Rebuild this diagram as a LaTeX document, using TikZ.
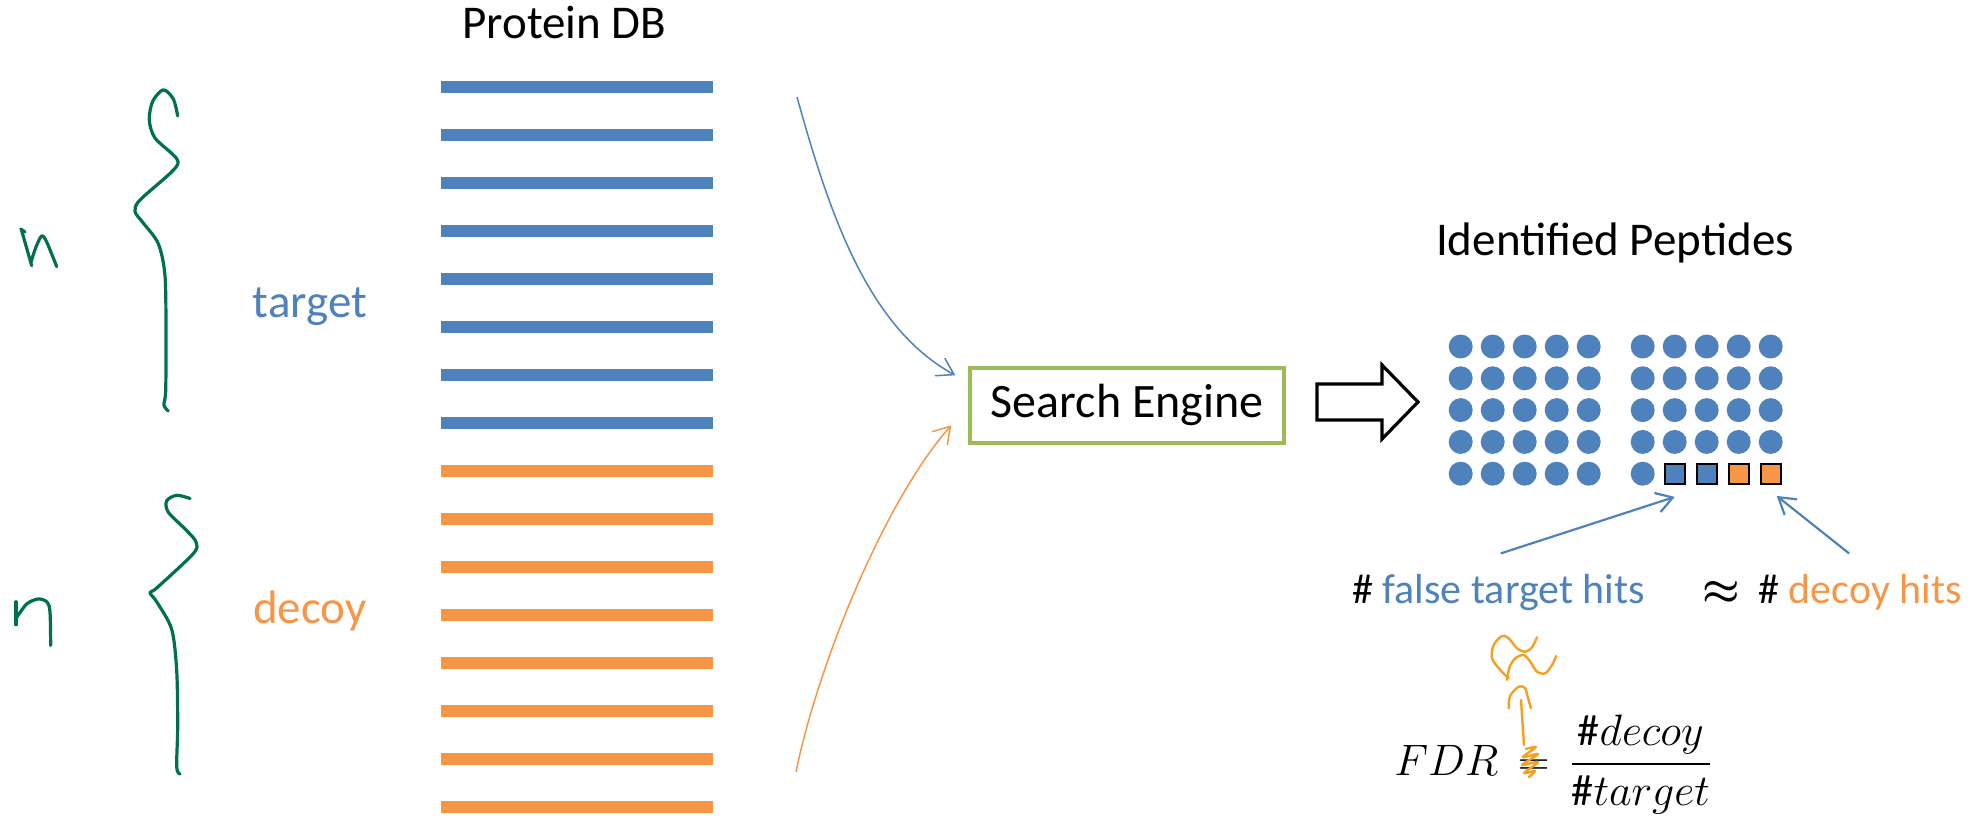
\documentclass[tikz,border=0pt]{standalone}
\usepackage{fix-cm}
\usepackage{amsmath,amssymb}
\usepackage{fontspec}
\setmainfont{Carlito}
\usetikzlibrary{calc,arrows.meta,positioning}
\definecolor{DBblue}{RGB}{79,129,189}
\definecolor{DBorange}{RGB}{247,150,70}
\definecolor{SEgreen}{RGB}{155,187,89}
\definecolor{inkgreen}{RGB}{0,112,80}
\definecolor{inkorange}{RGB}{245,160,35}
\tikzset{
  dbbar/.style ={line width=6pt},
  dbT/.style   ={dbbar, DBblue},
  dbD/.style   ={dbbar, DBorange},
  hdr/.style   ={font=\fontsize{23.5}{28}\selectfont, inner sep=0pt},
  hitlbl/.style={font=\fontsize{21}{25}\selectfont, inner sep=0pt},
  engine/.style={rectangle, draw=SEgreen, line width=2pt, minimum width=157pt,
                 minimum height=37.7pt, inner sep=0pt, font=\fontsize{24}{29}\selectfont},
  pdot/.style  ={circle, fill=DBblue, minimum size=12pt, inner sep=0pt},
  psq/.style   ={rectangle, draw=black, line width=1.2pt, minimum size=10pt, inner sep=0pt},
  feed/.style  ={-{Straight Barb[length=8pt,width=10pt]}, line width=0.75pt},
  hitarr/.style={-{Straight Barb[length=8pt,width=10pt]}, line width=1.1pt, DBblue},
  blockarr/.style={draw=black, line width=1.6pt, fill=white, line join=miter},
  ink/.style   ={inkgreen, line width=1.6pt, line cap=round, line join=round},
  inkO/.style  ={inkorange, line width=1.2pt, line cap=round, line join=round},
}
\begin{document}
\begin{tikzpicture}[x=0.5pt, y=-0.5pt]
  \useasboundingbox (0,0) rectangle (1977,819);
  % protein database
  \node[hdr, anchor=base] (dbtitle) at (564.5,39) {Protein DB};
  \foreach \i in {0,...,7}
    \draw[dbT] (441,{87+48*\i}) -- (713,{87+48*\i});
  \foreach \i in {8,...,15}
    \draw[dbD] (441,{87+48*\i}) -- (713,{87+48*\i});
  \node[hdr, text=DBblue, anchor=base] (tgt) at (310,317) {target};
  \node[hdr, text=DBorange, anchor=base] (dcy) at (310,623) {decoy};

  % handwritten braces and n's
  \draw[ink] plot[smooth] coordinates {(177.7,116) (173.3,99) (163.3,89.8) (152.7,101.3)
    (149.3,119.7) (155,138) (176.7,158.7) (173.3,170.2) (140,200) (135,211.5) (143.3,223)
    (158.3,243.7) (165,275.8) (166,335.5) (165.7,390.6) (164,405) (168.3,411)};
  \draw[ink] plot[smooth] coordinates {(190,498.5) (176.7,495.3) (166.7,500.8) (168.3,512.2)
    (186.7,530.6) (196,542) (193.3,553.6) (156.7,588) (150,592.6) (156.7,601.8) (171.7,629.3)
    (176.7,670.6) (177.7,725.7) (176.7,767) (180,774)};
  \draw[ink] (20.7,229) -- (25,232);
  \draw[ink] plot[smooth] coordinates {(21.5,230) (31.7,265.7)};
  \draw[ink] plot[smooth] coordinates {(31,262) (36,247) (41.7,236) (46.7,242) (56.7,266.6)};
  \draw[ink] (16,601.8) -- (16,624.7);
  \draw[ink] plot[smooth] coordinates {(17,617) (26.7,604) (38,599) (47,602) (50,612) (50.7,645.4)};

  % search engine
  \node[engine] (se) at (1127.3,405.3) {Search Engine};
  \coordinate (feedT) at (797,97);
  \coordinate (feedD) at (796,772);
  \draw[feed, DBblue] (feedT) .. controls (829,212) and (867,327) .. ([shift={(-13,-30)}]se.west);
  \draw[feed, DBorange] (feedD) .. controls (818,664) and (885,500) .. ([shift={(-17,20)}]se.west);
  \draw[blockarr] (1317,384) -- (1382,384) -- (1382,365) -- (1418,402) -- (1382,439)
    -- (1382,420) -- (1317,420) -- cycle;

  % identified peptides
  \node[hdr, anchor=base] (idtitle) at (1615,255) {Identified Peptides};
  \foreach \c in {0,...,4}
    \foreach \r in {0,...,4}
      \node[pdot] (L-\c-\r) at ({1460.7+32*\c},{346.5+31.8*\r}) {};
  \foreach \c in {0,...,4}
    \foreach \r in {0,...,3}
      \node[pdot] (R-\c-\r) at ({1642.7+32*\c},{346.5+31.8*\r}) {};
  \node[pdot] (R-0-4) at (1642.7,473.7) {};
  \node[psq, fill=DBblue] (sq1) at (1674.7,473.7) {};
  \node[psq, fill=DBblue] (sq2) at (1706.7,473.7) {};
  \node[psq, fill=DBorange] (sq3) at (1738.7,473.7) {};
  \node[psq, fill=DBorange] (sq4) at (1770.7,473.7) {};

  \node[hitlbl, anchor=base west] (fth) at (1352,603) {\# \textcolor{DBblue}{false target hits}};
  \node[hitlbl, anchor=base] (apx) at (1721,603) {$\boldsymbol{\approx}$};
  \node[hitlbl, anchor=base west] (dh) at (1758,603) {\# \textcolor{DBorange}{decoy hits}};
  \draw[hitarr] ([shift={(2,-20)}]fth.north) -- ([shift={(0,12)}]sq1.south);
  \draw[hitarr] ([shift={(-11,-20)}]dh.north) -- ([shift={(6,11)}]sq4.south);

  % FDR
  \node[font=\fontsize{22}{26}\selectfont, inner sep=0pt, anchor=base west] (fdr) at (1394,775)
    {$FDR \,=\, \dfrac{\#decoy}{\#target}$};
  \begin{scope}[xshift=3.5pt]
    \draw[inkO] plot[smooth] coordinates {(1519,749) (1529,747) (1516,757) (1531,754) (1515,765)
      (1531,762) (1517,773) (1528,771) (1522,777)};
    \draw[inkO] (1517,745) -- (1514,700);
    \draw[inkO] plot[smooth] coordinates {(1501.7,708.3) (1503,696) (1511.7,686.7) (1518,688)
      (1521,698) (1524,708.3)};
    \draw[inkO] plot[smooth] coordinates {(1501.7,678.3) (1493.3,670) (1485,658.3) (1486.7,645)
      (1495,636) (1501.7,638.3) (1510,648.3) (1518.3,651.7) (1525,647.3) (1530,637.3)};
    \draw[inkO] plot[smooth] coordinates {(1500,680) (1502.7,666.7) (1508.3,658.3) (1516.7,655)
      (1523.3,661.7) (1530,671.7) (1538.3,673.3) (1545,665) (1549.3,656)};
  \end{scope}
\end{tikzpicture}
\end{document}
